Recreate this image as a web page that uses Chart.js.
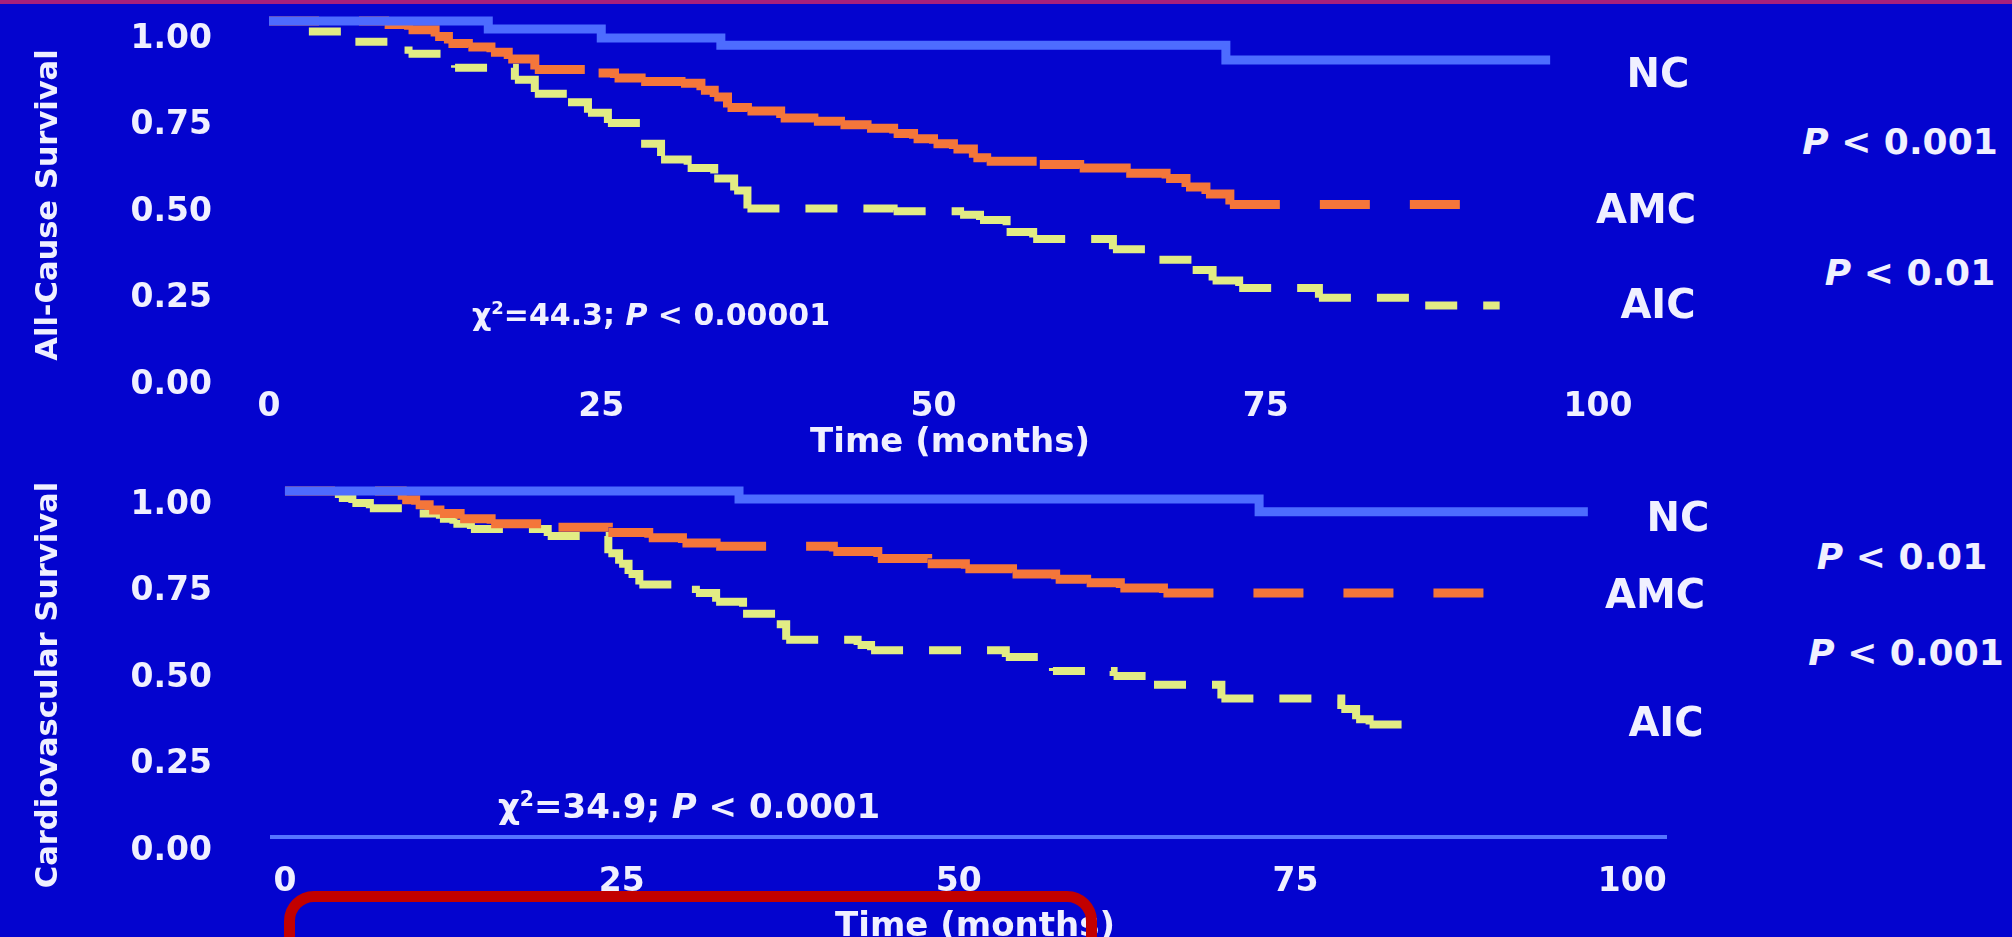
<!DOCTYPE html>
<html>
<head>
<meta charset="utf-8">
<script src="https://cdn.jsdelivr.net/npm/chart.js@4.4.1/dist/chart.umd.min.js"></script>
<style>
  html, body { margin:0; padding:0; width:2012px; height:937px; overflow:hidden; background:#0404cf; }
  body { position:relative; font-family:"DejaVu Sans", sans-serif; font-weight:bold; color:#f0f0ff; }
  canvas { position:absolute; left:0; }
  #c-all { top:0; }
  #c-cv { top:460px; }
  .lbl { position:absolute; transform:translate(-50%,-50%); white-space:nowrap; }
  .ytitle { position:absolute; transform:translate(-50%,-50%) rotate(-90deg); white-space:nowrap; font-size:30.5px; }
  .xtitle { font-size:34px; }
  .grp { font-size:40px; }
  .pv { font-size:36px; }
  .chi { font-size:30px; }
  .chi.big { font-size:34px; }
  .lbl sup { font-size:60%; }
  .topbar { position:absolute; left:0; top:0; width:100%; height:4px; background:#a8207c; }
  .frame { position:absolute; left:284px; top:891px; width:791px; height:90px;
           border:11px solid #c20000; border-radius:30px; }
</style>
</head>
<body>
<canvas id="c-all" width="1720" height="460"></canvas>
<canvas id="c-cv" width="1720" height="485"></canvas>

<div class="topbar"></div>

<div class="ytitle" style="left:46px; top:205px">All-Cause Survival</div>
<div class="lbl xtitle" style="left:950px; top:440px">Time (months)</div>
<div class="lbl grp" style="left:1658px; top:73px">NC</div>
<div class="lbl grp" style="left:1646px; top:209px">AMC</div>
<div class="lbl grp" style="left:1658px; top:304px">AIC</div>
<div class="lbl pv" style="left:1900px; top:141px"><i>P</i> &lt; 0.001</div>
<div class="lbl pv" style="left:1910px; top:272px"><i>P</i> &lt; 0.01</div>
<div class="lbl chi" style="left:651px; top:314px">&chi;<sup>2</sup>=44.3; <i>P</i> &lt; 0.00001</div>

<div class="ytitle" style="left:46px; top:685px">Cardiovascular Survival</div>
<div class="lbl xtitle" style="left:975px; top:924px">Time (months)</div>
<div class="lbl grp" style="left:1678px; top:517px">NC</div>
<div class="lbl grp" style="left:1655px; top:594px">AMC</div>
<div class="lbl grp" style="left:1666px; top:722px">AIC</div>
<div class="lbl pv" style="left:1902px; top:556px"><i>P</i> &lt; 0.01</div>
<div class="lbl pv" style="left:1906px; top:652px"><i>P</i> &lt; 0.001</div>
<div class="lbl chi big" style="left:689px; top:806px">&chi;<sup>2</sup>=34.9; <i>P</i> &lt; 0.0001</div>

<div class="frame"></div>

<script>
const monthTicks = [0, 25, 50, 75, 100];
const survTicks = [0, 0.25, 0.5, 0.75, 1];

// all-cause survival, [month, survival]
const allNC = [[0,1],[16.5,0.977],[25,0.951],[34,0.93],[72,0.887],[96.4,0.887]];
const allAMC = [[0,1],[8.7,0.99],[10.5,0.975],[12.5,0.955],[13.5,0.935],[15,0.925],[16.7,0.91],[18,0.89],
  [20,0.86],[24.8,0.85],[26,0.835],[28,0.825],[31,0.82],[32.5,0.8],[33.5,0.78],[34.5,0.75],[36,0.74],
  [38.5,0.72],[41,0.71],[43,0.7],[45,0.69],[47,0.675],[48.5,0.66],[50,0.645],[51.5,0.63],[53,0.605],
  [54,0.595],[58,0.585],[61,0.575],[64.5,0.56],[67.5,0.545],[69,0.52],[70.5,0.5],[72.3,0.47],[89.8,0.47]];
const allAIC = [[0,1],[3,0.97],[6.5,0.94],[10.5,0.905],[14,0.865],[18.5,0.83],[20,0.79],[22.5,0.765],
  [24,0.735],[25.5,0.705],[28,0.645],[29.5,0.6],[31.5,0.575],[33.5,0.545],[35,0.51],[36,0.458],[47,0.45],
  [52,0.44],[53.5,0.425],[55.5,0.39],[57.5,0.37],[63.5,0.34],[67,0.31],[69.5,0.28],[71,0.25],
  [73,0.228],[79,0.2],[87,0.178],[92.6,0.178]];

// cardiovascular survival
const cvNC = [[0,1],[33.7,0.977],[72.3,0.94],[96.7,0.94]];
const cvAMC = [[0,1],[8.7,0.975],[9.7,0.96],[10.7,0.945],[11.5,0.935],[13,0.92],[15.3,0.905],[20.3,0.895],
  [24,0.88],[27,0.865],[29.5,0.85],[32,0.84],[40.7,0.825],[44,0.805],[47.7,0.79],[50.5,0.775],[54,0.76],
  [57.2,0.745],[59.5,0.735],[62,0.72],[65.2,0.705],[91.2,0.705]];
const cvAIC = [[0,1],[4,0.98],[5,0.965],[6.3,0.95],[10,0.935],[11.5,0.92],[12.5,0.905],[13.8,0.89],
  [19.5,0.87],[24,0.82],[24.8,0.79],[25.5,0.76],[26.3,0.73],[30.5,0.705],[32,0.68],[34,0.645],
  [36.5,0.615],[37.2,0.57],[42.5,0.555],[43.5,0.54],[53.5,0.52],[57,0.48],[61.5,0.465],[64.5,0.44],
  [69.5,0.4],[78.4,0.37],[79.5,0.34],[80.5,0.325],[84.5,0.325]];

const COLORS = { nc:"#4d6cff", amc:"#f4763a", aic:"#e2ec84", text:"#f0f0ff", axis:"#5574ff" };

function kmSet(label, pts, color, width, dash){
  const ds = {
    label, data: pts.map(([x, y]) => ({ x, y })),
    borderColor: color, borderWidth: width, borderDash: dash,
    stepped: true, pointRadius: 0, clip: false, fill: false,
  };
  // restart the dash at every step, so runs of short steps read as a solid line
  if (dash.length) ds.segment = { borderDash: () => dash, borderDashOffset: c => (c.p0DataIndex % 2) * 0.01 };
  return ds;
}

function makeChart(id, o){
  return new Chart(document.getElementById(id), {
    type: "line",
    data: { datasets: [
      kmSet("NC", o.nc, COLORS.nc, 9, []),
      kmSet("AMC", o.amc, COLORS.amc, 9, [50, 40]),
      kmSet("AIC", o.aic, COLORS.aic, 8, [32, 26]),
    ]},
    options: {
      responsive: false, animation: false, events: [],
      layout: { autoPadding: false, padding: { top: o.top, right: o.right, left: 0, bottom: 0 } },
      plugins: { legend: { display: false }, tooltip: { enabled: false } },
      scales: {
        x: {
          type: "linear", min: o.xMin, max: o.xMax, bounds: "data",
          afterBuildTicks: s => { s.ticks = monthTicks.map(v => ({ value: v })); },
          afterFit: s => { s.height = o.xHeight; s.paddingLeft = 0; s.paddingRight = 0; },
          grid: { display: false, drawTicks: false },
          border: { display: o.axisLine, color: COLORS.axis, width: 4 },
          ticks: { color: COLORS.text, font: { size: 33, weight: "bold" }, padding: o.xPad, maxRotation: 0, autoSkip: false },
        },
        y: {
          min: 0, max: 1, bounds: "data",
          afterBuildTicks: s => { s.ticks = survTicks.map(v => ({ value: v })); },
          // fixed axis width; the tick padding must not push the plot area down
          afterFit: s => { s.width = o.yWidth; s.paddingTop = 0; s.paddingBottom = 0; },
          grid: { display: false, drawTicks: false },
          border: { display: false },
          ticks: { color: COLORS.text, font: { size: 33, weight: "bold" }, padding: o.yPad,
                   labelOffset: o.labelOffset, callback: v => v.toFixed(2) },
        },
      },
    },
  });
}

Chart.defaults.font.family = "'DejaVu Sans', sans-serif";

makeChart("c-all", {
  nc: allNC, amc: allAMC, aic: allAIC,
  xMin: 0, xMax: 100, top: 21, right: 122, xHeight: 93, yWidth: 269,
  xPad: 21, yPad: 57, labelOffset: 18, axisLine: false,
});

makeChart("c-cv", {
  nc: cvNC, amc: cvAMC, aic: cvAIC,
  xMin: -1, xMax: 102.5, top: 31, right: 54, xHeight: 108, yWidth: 271.5,
  xPad: 26, yPad: 59.5, labelOffset: 14, axisLine: true,
});
</script>
</body>
</html>
